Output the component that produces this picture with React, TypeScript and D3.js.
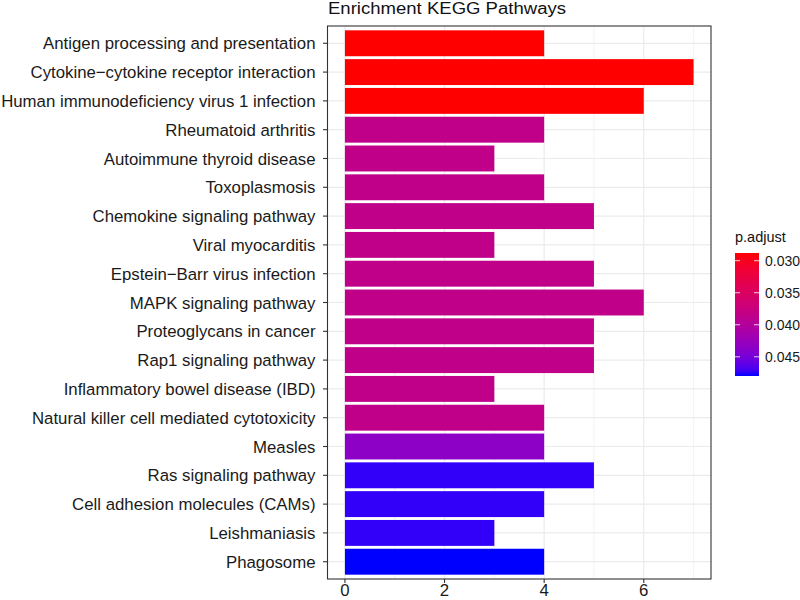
import React from "react";
import * as d3 from "d3";

const categories = [
  "Antigen processing and presentation",
  "Cytokine\u2212cytokine receptor interaction",
  "Human immunodeficiency virus 1 infection",
  "Rheumatoid arthritis",
  "Autoimmune thyroid disease",
  "Toxoplasmosis",
  "Chemokine signaling pathway",
  "Viral myocarditis",
  "Epstein\u2212Barr virus infection",
  "MAPK signaling pathway",
  "Proteoglycans in cancer",
  "Rap1 signaling pathway",
  "Inflammatory bowel disease (IBD)",
  "Natural killer cell mediated cytotoxicity",
  "Measles",
  "Ras signaling pathway",
  "Cell adhesion molecules (CAMs)",
  "Leishmaniasis",
  "Phagosome",
];
const counts = [4, 7, 6, 4, 3, 4, 5, 3, 5, 6, 5, 5, 3, 4, 4, 5, 4, 3, 4];
const pAdjust = [
  0.0288, 0.0288, 0.0288, 0.0385, 0.0385, 0.0385, 0.0385, 0.0385, 0.0385, 0.0385,
  0.0385, 0.0385, 0.0385, 0.0385, 0.0435, 0.0475, 0.0475, 0.0475, 0.048,
];
const xTicks = [0, 2, 4, 6];
const xMinor = [1, 3, 5, 7];
const legendTicks = [0.03, 0.035, 0.04, 0.045];
const title = "Enrichment KEGG Pathways";
const legendTitle = "p.adjust";

const FONT = "'Liberation Sans', Arial, sans-serif";

export default function App() {
  const W = 800, H = 600;
  const pl = 327.5, pr = 711, pt = 26, pb = 579;
  const maxV = d3.max(counts)!;
  const x = d3.scaleLinear().domain([-0.05 * maxV, maxV * 1.05]).range([pl, pr]);
  const n = categories.length;
  const y = d3.scalePoint().domain(categories).range([pt, pb]).padding(0.6);
  const step = (pb - pt) / (n - 1 + 1.2);
  const yc = (i: number) => y(categories[i])!;
  const bh = step * 0.9;
  const pMin = d3.min(pAdjust)!, pMax = d3.max(pAdjust)!;
  const color = d3.scaleLinear<string>().domain([pMin, pMax]).range(["#FF0000", "#0000FF"]).interpolate(d3.interpolateLab);
  const lgTop = 253, lgBot = 376, lgL = 735, lgR = 759;
  const ly = d3.scaleLinear().domain([pMin, pMax]).range([lgTop, lgBot]);
  const stops = d3.range(0, 1.0001, 0.05);
  return (
    <svg width={W} height={H} style={{ position: "absolute", left: 0, top: 0, background: "#fff" }} fontFamily={FONT}>
      <rect x={0} y={0} width={W} height={H} fill="#fff" />
      <text x={328} y={14.3} fontSize={16} textLength={238} lengthAdjust="spacingAndGlyphs" fill="#111">{title}</text>
      {/* grid */}
      {xMinor.map((v) => (
        <line key={"mn" + v} x1={x(v)} x2={x(v)} y1={pt} y2={pb} stroke="#EBEBEB" strokeWidth={0.6} />
      ))}
      {xTicks.map((v) => (
        <line key={"mj" + v} x1={x(v)} x2={x(v)} y1={pt} y2={pb} stroke="#EBEBEB" strokeWidth={1.2} />
      ))}
      {categories.map((c, i) => (
        <line key={"hg" + i} x1={pl} x2={pr} y1={yc(i)} y2={yc(i)} stroke="#EBEBEB" strokeWidth={1.2} />
      ))}
      {/* bars */}
      {categories.map((c, i) => (
        <rect key={"b" + i} x={x(0)} y={yc(i) - bh / 2} width={x(counts[i]) - x(0)} height={bh} fill={color(pAdjust[i])} />
      ))}
      <rect x={pl} y={pt} width={pr - pl} height={pb - pt} fill="none" stroke="#333" strokeWidth={1.1} />
      {/* y axis */}
      {categories.map((c, i) => (
        <g key={"yl" + i}>
          <line x1={pl - 4.5} x2={pl} y1={yc(i)} y2={yc(i)} stroke="#333" strokeWidth={1.1} />
          <text x={pl - 12} y={yc(i)} dy="0.36em" textAnchor="end" fontSize={16.8} fill="#1a1a1a">{c}</text>
        </g>
      ))}
      {/* x axis */}
      {xTicks.map((v) => (
        <g key={"xl" + v}>
          <line x1={x(v)} x2={x(v)} y1={pb} y2={pb + 4} stroke="#333" strokeWidth={1.1} />
          <text x={x(v)} y={596} textAnchor="middle" fontSize={16.8} fill="#1a1a1a">{v}</text>
        </g>
      ))}
      {/* legend */}
      <text x={lgL} y={242} fontSize={14.5} fill="#111">{legendTitle}</text>
      <defs>
        <linearGradient id="lg" x1="0" y1="0" x2="0" y2="1">
          {stops.map((s) => (
            <stop key={s} offset={s} stopColor={color(pMin + s * (pMax - pMin))} />
          ))}
        </linearGradient>
      </defs>
      <rect x={lgL} y={lgTop} width={lgR - lgL} height={lgBot - lgTop} fill="url(#lg)" />
      {legendTicks.map((v) => (
        <g key={"lt" + v}>
          <line x1={lgL} x2={lgL + 5} y1={ly(v)} y2={ly(v)} stroke="#fff" strokeWidth={0.8} />
          <line x1={lgR - 5} x2={lgR} y1={ly(v)} y2={ly(v)} stroke="#fff" strokeWidth={0.8} />
          <text x={lgR + 6} y={ly(v)} dy="0.36em" fontSize={14} fill="#1a1a1a">{v.toFixed(3)}</text>
        </g>
      ))}
    </svg>
  );
}
